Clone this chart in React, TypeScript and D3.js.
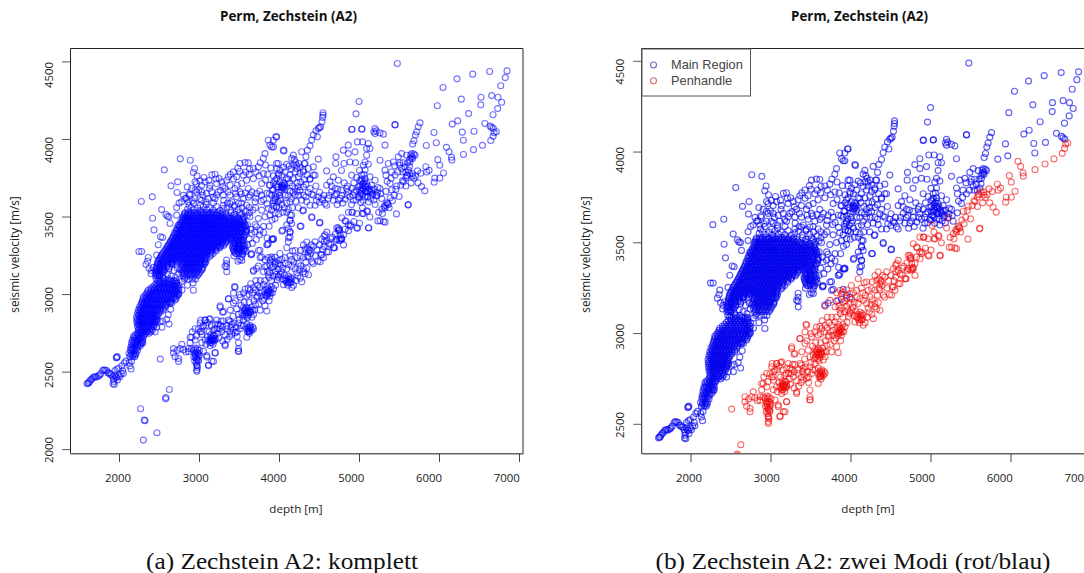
import React from "react";
import * as d3 from "d3";

type P = [number, number];
type Row = [number, number[]];

const mainTail: P[] = [[1595,2425],[1605,2430],[1615,2430],[1625,2440],[1640,2450],[1655,2455],[1670,2465],[1685,2470],[1700,2470],[1715,2468],[1735,2475],[1750,2480],[1765,2490],[1790,2510],[1805,2515],[1820,2512],[1840,2510],[1855,2495],[1870,2495],[1885,2485],[1900,2485],[1915,2470],[1925,2455],[1928,2440],[1920,2425],[1935,2420],[1940,2480],[1955,2470],[1965,2465],[1975,2450],[1990,2480],[2005,2470],[2020,2490],[1970,2520],[1990,2525],[1960,2592],[1972,2600],[1966,2595],[1945,2510],[2048,2492],[2040,2510],[2030,2540],[2060,2560],[2081,2571],[2130,2540],[2144,2520],[2120,2560],[2150,2570]];
const lowOutliers: P[] = [[2264,2264],[2310,2191],[2318,2187],[2468,2109],[2298,2062]];

const lowerArmRows: Row[] = [
[2600,[2130,2165,2190]],[2620,[2120,2150,2180,2205]],[2640,[2135,2160,2190,2225]],[2660,[2140,2170,2200,2235]],
[2685,[2150,2185,2215,2255,2280]],[2705,[2160,2190,2225,2260,2290]],[2730,[2175,2205,2240,2270,2300]],[2750,[2225,2260,2290,2325,2370]],
[2770,[2235,2265,2300,2335,2375,2410]],[2795,[2225,2255,2285,2320,2355,2390,2425]],[2815,[2220,2250,2285,2315,2350,2385,2420,2445]],[2835,[2215,2245,2280,2310,2345,2380,2415,2450,2470]],
[2857,[2214,2250,2275,2305,2340,2375,2410,2440,2465]],[2878,[2225,2260,2290,2320,2355,2385,2420,2450,2490]],[2900,[2235,2265,2300,2335,2370,2400,2435,2470,2510,2548]],[2920,[2250,2285,2315,2350,2385,2420,2455,2490,2530,2570]],
[2943,[2277,2310,2340,2375,2410,2440,2475,2510,2550,2590,2630]],[2965,[2290,2325,2355,2390,2425,2460,2495,2530,2565,2600,2650,2695]],[2986,[2298,2335,2370,2400,2435,2470,2505,2540,2580,2615,2650,2685,2714]],[3008,[2340,2375,2415,2450,2490,2525,2565,2600,2640,2675,2710,2740]],
[3029,[2360,2400,2440,2480,2520,2560,2595,2630,2665,2700,2735]],[3050,[2420,2465,2500,2540,2580,2620,2655,2690,2725]],[3072,[2465,2505,2545,2585,2625,2660,2695,2715]],[3090,[2480,2530,2580,2640,2680,2710]],
];
const lowerArmSecond: Row[] = [
[2610,[2142,2172,2200]],[2650,[2148,2178,2212]],[2672,[2158,2192,2228,2262]],[2695,[2168,2202,2238,2272]],
[2718,[2182,2218,2252,2284]],[2740,[2195,2232,2275,2310]],[2760,[2245,2278,2312,2352,2392]],[2782,[2242,2278,2318,2358,2398]],
[2805,[2238,2268,2302,2338,2372,2408,2436]],[2825,[2232,2265,2298,2332,2368,2402,2434,2458]],[2846,[2226,2262,2292,2325,2358,2392,2426,2455]],[2868,[2238,2268,2298,2332,2365,2398,2430,2462,2480]],
[2889,[2245,2276,2308,2340,2375,2408,2442,2472,2512]],[2910,[2262,2296,2330,2365,2400,2438,2475,2512,2550]],[2932,[2268,2298,2330,2362,2398,2432,2466,2502,2540,2580]],[2954,[2282,2316,2348,2382,2418,2452,2488,2524,2562,2604,2640]],
[2975,[2302,2340,2378,2414,2450,2485,2520,2556,2592,2632,2672,2705]],[2997,[2322,2358,2392,2428,2464,2500,2535,2572,2610,2648,2688,2725]],[3018,[2352,2392,2428,2470,2508,2546,2582,2622,2658,2695,2728]],[3040,[2392,2434,2476,2512,2552,2590,2628,2668,2708,2742]],
[3061,[2442,2486,2525,2565,2605,2642,2678,2712]],[3082,[2500,2555,2610,2665,2702]],
];
const lowerArmLoose: P[] = [[2506,2825],[2540,2830],[2590,2840],[2610,2870],[2620,2810],[2530,2790],[2465,2790],[2445,2760],[2640,2905],[2655,2945],[2700,3020],[2780,3030],[2290,2690],[2345,2765],[2620,2950],[2924,3028],[2820,3110],[2740,3000],[2500,3125],[2545,3110],[2600,3130],[2650,3120],[2700,3110],[2740,3135],[2620,3165],[2680,3155],[2725,3170],[2780,3085],[2850,3060],[2920,3075],[2745,3060],[2560,3150],[2660,3200]];

const coreRows: Row[] = [
[3528,[2820,2860,2895,2940,2975,3020,3055,3100,3140,3180,3225,3285,3395,3505,3625]],
[3510,[2805,2845,2880,2920,2960,3000,3040,3085,3125,3165,3205,3245,3290,3335,3425,3515,3600]],
[3493,[2800,2835,2870,2905,2945,2985,3025,3060,3100,3140,3180,3220,3260,3300,3345,3390,3430,3475,3555]],
[3475,[2790,2825,2860,2900,2935,2975,3010,3050,3090,3130,3170,3210,3250,3290,3330,3370,3415,3455,3500,3540]],
[3458,[2770,2810,2850,2885,2925,2965,3005,3040,3080,3120,3160,3195,3235,3275,3320,3360,3400,3440,3480,3525,3560]],
[3440,[2750,2790,2830,2870,2910,2950,2990,3030,3070,3110,3150,3190,3230,3270,3310,3350,3390,3430,3470,3510,3550,3575]],
[3423,[2730,2770,2815,2855,2895,2935,2975,3015,3055,3095,3135,3175,3215,3255,3295,3335,3375,3415,3455,3495,3540,3590]],
[3405,[2715,2755,2795,2835,2880,2920,2960,3000,3040,3080,3120,3160,3200,3240,3280,3320,3360,3400,3440,3480,3525,3575]],
[3388,[2695,2735,2775,2820,2860,2900,2940,2980,3020,3060,3100,3140,3180,3220,3260,3300,3340,3380,3420,3465,3510,3560]],
[3370,[2670,2710,2755,2800,2840,2880,2920,2960,3000,3040,3080,3120,3160,3200,3240,3280,3320,3360,3400,3450,3500,3550]],
[3352,[2650,2690,2730,2775,2820,2860,2900,2945,2985,3025,3065,3105,3145,3185,3225,3265,3305,3345,3395,3440,3495,3545]],
[3335,[2630,2670,2710,2750,2795,2840,2880,2925,2965,3005,3045,3085,3125,3165,3205,3245,3285,3330,3440,3490,3540]],
[3317,[2610,2650,2690,2730,2775,2815,2860,2900,2945,2985,3025,3065,3105,3145,3185,3225,3265,3300,3430,3480,3525,3565]],
[3300,[2590,2630,2670,2715,2755,2800,2840,2885,2925,2965,3005,3045,3085,3125,3165,3210,3250,3420,3465,3515,3570]],
[3282,[2565,2605,2650,2690,2735,2775,2820,2860,2905,2945,2985,3025,3065,3105,3150,3210,3430,3480,3530,3560]],
[3265,[2540,2585,2625,2670,2710,2755,2800,2840,2885,2925,2965,3010,3050,3090,3130,3170,3450,3495,3540]],
[3247,[2520,2565,2605,2650,2695,2735,2780,2820,2865,2905,2950,2990,3035,3075,3130]],
[3230,[2500,2545,2585,2630,2675,2720,2760,2805,2845,2890,2930,2975,3020,3065,3090]],
[3212,[2480,2525,2570,2615,2660,2705,2745,2790,2830,2875,2920,2965,3010,3055,3080]],
[3195,[2475,2510,2555,2600,2650,2700,2790,2830,2870,2915,2955,3000,3040,3060]],
[3177,[2465,2505,2550,2590,2620,2780,2820,2860,2905,2945,2990,3040]],
[3160,[2460,2500,2530,2560,2760,2800,2845,2890,2935,2985,3030]],
[3140,[2445,2480,2515,2540,2780,2825,2870,2915,2960,3000]],
[3120,[2450,2475,2500,2795,2840,2885,2930,2970]],
[3100,[2460,2500,2560,2610,2810,2860,2910,2950]],
];
const coreSecond: Row[] = [
[3519,[2812,2851,2888,2928,2966,3009,3047,3092,3131,3172,3215,3265,3320,3438,3530]],
[3502,[2796,2828,2862,2902,2940,2980,3018,3062,3103,3146,3186,3226,3268,3312,3358,3447,3545]],
[3484,[2782,2815,2852,2888,2926,2965,3004,3044,3082,3121,3161,3201,3242,3282,3322,3366,3408,3449,3492,3536]],
[3466,[2762,2798,2836,2875,2912,2950,2988,3026,3064,3102,3142,3182,3222,3262,3302,3342,3382,3424,3466,3510,3552]],
[3449,[2745,2780,2818,2858,2896,2934,2972,3012,3050,3090,3130,3170,3210,3250,3290,3332,3372,3412,3452,3492,3532,3572]],
[3431,[2722,2760,2800,2840,2880,2918,2956,2996,3036,3076,3116,3156,3196,3236,3276,3316,3356,3396,3436,3476,3518,3562]],
[3414,[2708,2748,2786,2826,2866,2906,2946,2986,3026,3066,3106,3146,3186,3226,3266,3306,3346,3386,3426,3468,3510,3585]],
[3396,[2688,2726,2766,2808,2848,2888,2928,2968,3008,3048,3088,3128,3168,3208,3248,3288,3328,3368,3408,3450,3492,3538]],
[3379,[2678,2716,2756,2796,2836,2876,2916,2956,2996,3036,3076,3116,3156,3196,3236,3276,3316,3356,3398,3440,3484,3530]],
[3361,[2660,2700,2740,2782,2822,2862,2902,2942,2982,3022,3062,3102,3142,3182,3222,3262,3302,3342,3384,3428,3474,3522]],
[3344,[2640,2680,2720,2762,2806,2848,2890,2932,2972,3012,3052,3092,3132,3172,3212,3252,3292,3338,3425,3470,3518]],
[3326,[2620,2660,2700,2742,2784,2826,2868,2912,2952,2992,3032,3072,3112,3152,3192,3232,3274,3312,3448,3505,3550]],
[3309,[2600,2640,2680,2722,2765,2808,2850,2892,2934,2975,3015,3055,3095,3135,3175,3218,3258,3412,3455,3498,3545]],
[3291,[2578,2618,2660,2702,2745,2788,2830,2872,2915,2955,2995,3035,3075,3115,3158,3198,3425,3470,3505,3550]],
[3273,[2552,2595,2638,2680,2722,2765,2808,2850,2895,2935,2975,3018,3058,3098,3142,3440,3485,3525]],
[3256,[2530,2575,2615,2660,2702,2745,2790,2830,2875,2915,2958,3000,3042,3085,3145]],
[3238,[2510,2555,2595,2640,2685,2728,2770,2812,2855,2898,2940,2982,3028,3070]],
[3221,[2490,2535,2578,2622,2668,2712,2752,2798,2838,2882,2925,2968,3015,3060]],
[3203,[2478,2518,2562,2608,2655,2798,2840,2885,2928,2972,3020,3068]],
[3186,[2470,2508,2552,2596,2790,2832,2880,2925,2968,3015]],
[3168,[2462,2502,2542,2770,2812,2852,2898,2942,2988,3036]],
[3150,[2452,2490,2522,2790,2835,2880,2925,2972,3012]],
[3130,[2462,2490,2805,2850,2895,2945,2985]],
];
const coreBand: P[] = [[2852,3552],[2895,3561],[2932,3546],[2978,3558],[3015,3542],[3048,3566],[3092,3548],[3128,3560],[3172,3545],[3212,3568],[3256,3541],[3298,3555],[3345,3562],[3392,3544],[3438,3566],[3484,3548],[3532,3559],[3578,3538],[3622,3561],[3668,3545],
[2835,3622],[2872,3648],[2912,3605],[2965,3662],[3002,3618],[3042,3640],[3082,3598],[3125,3685],[3170,3628],[3215,3642],[3262,3672],[3302,3608],[3356,3662],[3402,3598],[3452,3652],[3472,3705],[3522,3648],[3575,3655],[3612,3628],[3655,3662],[3702,3622],[3752,3668],[3802,3612],[3842,3652],[3875,3705],[3912,3675],[3825,3738],[3745,3765],[3705,3790],[3622,3775],[3580,3790],[3502,3795],[3425,3745],[3385,3775],[3292,3698],[3205,3745],[3118,3735],[2992,3675],[3155,3772],[3245,3748],[2968,3765],[3480,3815],[3625,3810],[3760,3850],[3825,3835],[3852,3775],[3892,3815],[3925,3765],[3962,3712],[3875,3650],[3922,3605],[3845,3585],[3772,3600],[2870,3575],[2925,3590],[3010,3575],[3085,3580],[3175,3590],[3350,3590],[3440,3575],[3525,3590],[3700,3560],[3920,3590],[3960,3630],[3995,3560],[3905,3480],[3870,3440],[3802,3440],[3750,3385],[3710,3355],[3660,3330],[3600,3320],[3620,3360],[3580,3280],[3600,3450],[3640,3420],[3695,3450],[3800,3400],[3845,3365],[3480,3215],[3505,3225],[3430,3250],[3540,3260],[3440,3300]];

const coreFringe: P[] = [[2760,3875],[2885,3866],[2560,3804],[2923,3787],[2939,3813],[3194,3776],[3056,3755],[3006,3733],[2944,3727],[2727,3727],[2644,3701],[2719,3658],[2410,3630],[2273,3600],[2527,3548],[2581,3516],[2600,3505],[2619,3501],[2631,3458],[2414,3492],[2431,3417],[2514,3372],[2539,3368],[2485,3321],[2243,3278],[2277,3278],[2360,3239],[2464,3254],[2714,3561],[2735,3447],[2714,3512],[2330,3195],[2370,3170],[2400,3155],[2420,3175],[2350,3215],[2395,3135],[2745,3590],[2800,3640],
[2848,3694],[2902,3684],[2964,3716],[3027,3705],[3069,3727],[3131,3705],[3214,3716],[3277,3727],[3360,3759],[3339,3737],[3423,3791],[3506,3845],[3569,3851],[3610,3849],[3673,3813],[3735,3823],[3798,3877],[3819,3909],[3860,3995],[3881,3963],[3923,3952],[3956,4017],[3798,3780],[3777,3716],[3548,3770],[3464,3759],[3381,3705],[3444,3684],[3527,3716],[3589,3737],[3673,3748],[3610,3684],[3506,3662],[3319,3684],[3235,3662],[3152,3662],[3089,3651],[3027,3662],[2944,3673],[2881,3641],[2819,3619],[2777,3598],[2860,3598],[2944,3619],[3027,3608],[3110,3619],[3194,3619],[3298,3641],[3381,3641],[3464,3630],[3548,3619],[3631,3641],[3714,3651],[3777,3641],[3694,3598],[3589,3576],[3485,3587],[3381,3587],[3298,3576],
[3631,3501],[3735,3490],[3819,3501],[3881,3512],[3944,3490],[3777,3544],[3860,3555],[3964,3566],[3944,3619],[3985,3694],[3964,3748],[3985,3780],[3964,3845],[3714,3437],[3652,3394],[3589,3404],[3527,3351],[3569,3383],[3694,3404],[3756,3415],[3464,3265],[3527,3243],[3652,3265],[3648,3260],[3756,3286],[3860,3329],[3923,3361],[3777,3243],[3902,3243],[3944,3211],[3881,3190],[3985,3200],[3819,3179],[3714,3168],[3673,3157],[3339,3200],[3339,3179],[3341,3147],[3320,3183],[3339,3222],[3423,3329],[3485,3297],[3529,3220],[3645,3257],[3758,3238],[3737,3284],[3841,3321],[3904,3357],[3850,3321],[3912,3357],[4029,3409],[4133,3403],[4112,3366],[4091,3449],[4133,3476],[4133,3513],[4112,3550],[4258,3440],[4404,3495],[4500,3462],[4291,3540]];

const streakUpper: P[] = [[4544,4172],[4544,4157],[4539,4142],[4531,4114],[4514,4082],[4485,4071],[4500,4076],[4456,4056],[4423,4028],[4473,4017],[4402,3996],[4381,3959],[4348,3931],[4277,3921],[4331,3888],[4310,3845],[4173,3899],[4152,3878],[4485,3873],[4298,3792],[4214,3813],[4256,3781],[4444,3770],[4381,3742],
[4048,3931],[4056,3926],[3964,4017],[3923,3995],[3902,3952],[3985,3845],[3964,3813],[4006,3802],[4069,3791],[4089,3748],[4069,3705],[4048,3694],[4006,3727],[3944,3737],[3964,3694],[4027,3673],[3923,3673],[3902,3641],[3944,3608],[3964,3566],[3944,3523],[3902,3544],[4006,3608],[3881,3705],[4040,3700],[4055,3690],[4030,3705],[4060,3715],[4045,3720],[4035,3685],[4070,3680],[4020,3690],[3990,3660],[3950,3650],
[4214,3834],[4319,3845],[4360,3813],[4423,3823],[4298,3802],[4194,3791],[4235,3759],[4173,3748],[4381,3748],[4423,3770],[4381,3684],[4402,3647],[4298,3694],[4256,3673],[4194,3641],[4152,3619],[4131,3598],[4277,3608],[4423,3641],[4485,3630],[4527,3619],[4568,3587],[4444,3576],[4381,3576],[4298,3544],[4402,3501],[4506,3465],[4268,3441],[4152,3512],[4131,3480],[4152,3458],[4110,3426],[4131,3404],[4039,3415],[4131,3372],[4110,3340],[3923,3355],[4194,3684],[4170,3660],[4110,3640],[4130,3665],[4220,3720],[4090,3590],[4060,3560],[4040,3530],[3990,3520],[4090,3530],[4020,3620],[4205,3600],[4340,3600],[4235,3560],[4160,3560],
[4185,3870],[4200,3855],[4175,3835],[4150,3810],[4240,3845],[4260,3820],[4130,3770],[4110,3745],[4125,3720],[4160,3700],[4235,3695],[4265,3725],[4310,3740],[4345,3770],[4330,3710],[4360,3660],[4300,3640],[4240,3640],[4330,3630],[4220,3665],[4455,3700],[4500,3660],[4460,3605],[4120,3830],[4090,3840],[4050,3820],[4030,3770],[3990,3770],[3925,3720],[4000,3640],[4070,3640],[4030,3580],[3980,3600],[3930,3570]];

const midBand: P[] = [[4706,3888],[4702,3845],[4589,3797],[4806,3845],[4673,3759],[4631,3727],[4735,3737],[4589,3705],[4694,3684],[4652,3662],[4777,3673],[4839,3684],[4902,3770],[4881,3855],[4860,3909],[4860,3963],[4798,3931],[4944,3920],[4973,3984],[5039,3984],[5110,3974],[5131,3941],[5089,3941],[5089,3898],[5069,3855],[5048,3834],[5069,3802],[5027,3770],[5006,3737],[5069,3748],[5131,3759],[5194,3737],[5152,3705],[5089,3716],[4985,3694],[4902,3684],[4860,3662],[4923,3641],[5027,3651],[4985,3630],[4923,3608],[4881,3630],[4735,3608],[4673,3608],[4589,3576],[5048,3608],[5069,3630],[5110,3598],[5214,3641],[5277,3619],[5256,3684],[5381,3716],[5444,3770],[5319,3802],[5360,3845],[5256,3866],[5319,3963],[5444,4096],[4902,4064],[5027,4066],[5194,4070],[5194,4038],[5256,4042],[5298,4034],[5180,4050],[5210,4055],[5423,3855],[5485,3888],[5527,3909],[5590,3898],[5652,3909],[5694,3898],[5664,3877],[5631,3855],[5569,3823],[5610,3802],[5527,3812],[5640,3900],[5660,3890],[5680,3905],[5645,3880],[5625,3870],[5600,3850],[5545,3850],[5500,3835],[5580,3790],[5625,3825],
[5030,3745],[5050,3720],[5060,3700],[5040,3710],[5020,3730],[5005,3700],[5065,3730],[5080,3690],[5045,3680],[5025,3670],[5100,3700],[5120,3680],[5140,3660],[5160,3640],[5090,3660],[5010,3650],[5055,3775],[5075,3700],[5035,3690],[5000,3675],[4960,3670],[4935,3660],[4845,3640],[4780,3640],[4820,3615],[4710,3650],[4620,3640],[4555,3640],[4900,3580],[4720,3580],[4790,3590],[4960,3610],[4850,3700],[4775,3800],[4950,3850],[5000,3800],[5110,3840],[5130,3665],[5180,3680],[5230,3690],[5100,3630],[5140,3620],[5180,3610],
[4760,3620],[4690,3640],[4610,3620],[4540,3610],[4500,3595],[4650,3700],[4730,3680],[4810,3720],[4930,3720],[4965,3755],[5075,3665],[5105,3670],[5040,3640],[5000,3625],[5150,3675],[5170,3650],[5225,3660],[5265,3650],[5330,3665],[5345,3730],[5395,3750],[5480,3790],[5540,3790],[5505,3850],[5440,3830],[5400,3790],[5330,3770],
[5756,4107],[5735,4082],[5714,4050],[5698,4028],[5681,3992],[5664,3970],[5931,4045],[5835,3961],[5960,3979],[5473,4490],[6844,4442],[6823,4399],[6765,4346],[6627,4438],[6415,4421],[6219,4391],[6044,4335],[6273,4260],[6519,4272],[6515,4223],[6652,4283],[6731,4272],[6777,4240],[6727,4199],[6669,4159],[6364,4167],[5973,4217],[4994,4245],[4956,4165],[4906,4066],[5031,4068],[5444,4094],[6227,4120],[6160,4099],[6285,4047],[6431,4053],[6298,3995],[6568,4103],[6631,4086],[6651,4078],[6673,4071]];

const penhandleLow: P[] = [[2509,2584],[2623,2388],[2577,2328],[2580,2336],[2966,2515],[2966,2542],[2966,2579],[2945,2615],[2925,2643],[2987,2570],[3112,2542],[3154,2570],[3091,2606],[3195,2625],[3050,2634],[2904,2725],[2883,2689],[2862,2652],[3487,2634],[3487,2689],[3320,2670],[3154,2707],[3112,2707],[3195,2716],[3070,2707],[3133,2670],[3175,2734],[3029,2762],[2945,2780],[3050,2799],[3008,2817],[3070,2835],[3133,2844],[3216,2835],[3237,2808],[3279,2762],[3341,2780],[3383,2826],[3362,2835],[3404,2808],[3404,2744],[3445,2753],[3508,2780],[3591,2725],[3633,2762],[3591,2780],[3675,2780],[3633,2789],[3550,2799],[3487,2817],[3550,2835],[3654,2854],[3591,2881],[3529,2881],[3633,2899],[3570,2908],[3487,2872],[3466,2908],[3675,2872],[3758,2899],[3820,2927],[3841,2894],[3425,2945],[3362,2973],[3425,3009],[3445,3046],[3508,2982],[3591,2991],[3633,3028],[3716,2982],[3779,3018],[3758,3046],[3883,3028],[3820,3000],[3862,3037],[3925,3037],[3675,3046],[3800,3064],[3258,2927],[3300,2890],
[2675,2652],[2675,2624],[2759,2652],[2738,2588],[2738,2569],[2779,2679],[2863,2633],[2884,2725],[2946,2624],[2967,2588],[2967,2542],[2967,2505],[3092,2597],[3113,2546],[3175,2569],[3196,2624],[3154,2707],[3196,2707],[3071,2835],[2988,2780],[2946,2707],[3030,2743],[3258,2917],[3288,2886],[3438,3051],[3363,2972],[3488,2652],[3488,2635],[3321,2679],[3613,2762],[2720,2640],[2695,2600],[2800,2645],[2830,2630],[2900,2650],[2930,2600],[2950,2595],[2985,2600],[2960,2560],[2975,2530],[3000,2640],[3030,2690],[3080,2680],[3100,2730],[3130,2690],[3160,2720],[3180,2700],[3145,2725],[3170,2680],[3120,2760],[3080,2800],[3010,2760],[2960,2735],[2910,2760],[3150,2800],[3190,2780],[3230,2750],[3260,2800],[3300,2830],[3320,2740],[3380,2760],[3420,2770],[3470,2730],[3455,2790],[3500,2840],[3420,2860],[3385,2900],[3450,2960],[3520,2930],[3540,2860],[3575,2885],[3600,2895],[3615,2870],[3560,2895],[3585,2860],[3610,2910],[3650,2920],[3690,2900],[3620,2950],[3680,2960],[3740,2940],[3790,2960],[3560,2950],[3500,3000],[3550,3010],[3620,3000],[3770,2990],[3840,2990],[3850,3015],[3870,3005],[3880,2990],[3830,3030],[3845,3050],[3910,3010],[3615,2767],[3600,2760],[3625,2750],[3640,2780],[3655,2770],
[2972,2625],[2955,2640],[2985,2620],[2998,2610],[2950,2655],[2975,2650],[2955,2610],[2985,2580],[2940,2570],[3140,2715],[3165,2705],[3150,2690],[3175,2715],[3125,2700],[3140,2740],[3190,2735],[3035,2790],[3015,2835],[3100,2820],[3120,2840],[3195,2810],[3220,2780],[3170,2770],[3250,2780],[3270,2830],[3290,2790],[3340,2800],[3395,2790],[3430,2815],[3375,2730],[3345,2710],[3290,2700],[3240,2720],[3575,2900],[3590,2915],[3605,2885],[3625,2890],[3600,2850],[3565,2870],[3550,2915],[3640,2885],[3665,2900],[3700,2935],[3725,2990],[3745,3010],[3665,3010],[3700,3030],[3725,3060],[3610,3040],[3570,3035],[3640,3070],[3705,3090],[3760,3090],[3815,3090],[3855,3010],[3865,3022],[3890,3012],[3845,3000],[3810,2975],[3870,2960],[3900,3050],[3950,3060],[3970,3095],[3620,2775],[3610,2790],[3635,2800],[3665,2790],[3590,2810],[3520,2800],[3470,2760]];

const penhandleHigh: P[] = [[4112,3082],[4070,3092],[4154,3101],[4050,3064],[4154,3046],[4279,3082],[4362,3128],[4300,3147],[4112,3119],[3987,3119],[3862,3128],[3800,3147],[3737,3183],[3675,3150],[3883,3220],[3862,3238],[3904,3229],[3987,3220],[4070,3202],[4112,3192],[4070,3238],[4091,3302],[4195,3284],[4216,3238],[4258,3247],[4320,3293],[4341,3339],[4425,3311],[4383,3284],[4362,3275],[4529,3256],[4550,3238],[4508,3211],[4404,3211],[4300,3165],[4195,3165],[3987,3165],[3904,3174],[4237,3202],[4154,3183],[4591,3275],[4675,3302],[4612,3330],[4529,3357],[4570,3385],[4591,3403],[4716,3431],[4737,3412],[4779,3357],[4716,3357],[4758,3385],[4800,3385],[4820,3421],[4883,3440],[4862,3412],[4779,3495],[4820,3476],[4966,3431],[5112,3431],[4904,3531],[4966,3522],[5050,3522],[5091,3540],[5258,3476],[5320,3467],[5279,3550],[5320,3559],
[4095,3075],[4120,3095],[4130,3075],[4105,3060],[4085,3105],[4140,3110],[4060,3125],[4025,3145],[3960,3130],[3920,3120],[3880,3140],[3850,3150],[3870,3110],[3900,3090],[4010,3190],[4040,3170],[4090,3165],[3950,3195],[4150,3225],[4180,3210],[4250,3160],[4330,3210],[4300,3240],[4350,3250],[4370,3290],[4350,3300],[4390,3265],[4450,3250],[4470,3290],[4500,3320],[4560,3340],[4640,3360],[4687,3302],[4612,3275],[4745,3421],[4750,3415],[4735,3430],[4770,3360],[4760,3350],[4775,3365],[4704,3348],[4558,3376],[4587,3348],[4641,3321],[4558,3311],[4683,3302],[4516,3256],
[5608,3577],[5462,3520],[5300,3471],[5229,3475],[5116,3429],[4975,3427],[5733,3720],[5775,3696],[5816,3669],[5870,3801],[5829,3824],[5766,3782],[5725,3797],[5662,3779],[5600,3769],[5625,3782],[5579,3751],[5537,3733],[5516,3705],[5454,3678],[5404,3674],[5495,3632],[5433,3641],[5412,3605],[5350,3586],[5360,3580],[5340,3592],[5308,3568],[5325,3575],[5287,3522],[5195,3581],[5216,3636],[5100,3535],[5037,3522],[4912,3531],[4862,3531],[5016,3595],[5037,3559],[4829,3473],[4891,3449],[5610,3580],[5660,3763],[5590,3765],[5550,3727],
[6683,4044],[6670,4020],[6641,3993],[6537,3962],[6425,3934],[6300,3903],[6154,3867],[6150,3885],[6120,3921],[6087,3949],[5979,3870],[6004,3834],[6050,3784],[6004,3751],[5941,3751],[5933,3724],[6710,4050],
[3985,3110],[4010,3130],[4040,3100],[4085,3085],[4125,3100],[4145,3080],[4175,3060],[4205,3090],[4230,3120],[4260,3105],[4320,3135],[4340,3170],[4265,3185],[4215,3140],[3945,3150],[3925,3180],[3840,3185],[3820,3225],[3945,3240],[4005,3265],[4030,3225],[4130,3250],[4165,3280],[4265,3285],[4300,3320],[4395,3320],[4445,3340],[4360,3240],[4420,3200],[4480,3215],[4540,3290],[4660,3370],[4700,3390],[4745,3350],[4800,3320],[4860,3450],[4930,3470],[5000,3460],[5130,3500],[5240,3530],[5370,3560],[5385,3625],[5465,3700],[5580,3700],[5645,3720],[5680,3750],[5700,3765],[5840,3790]];

const xTicks = [2000, 3000, 4000, 5000, 6000, 7000];
const yTicksLeft = [2000, 2500, 3000, 3500, 4000, 4500];
const yTicksRight = [2500, 3000, 3500, 4000, 4500];
const plotTitle = "Perm, Zechstein (A2)";
const xLabel = "depth [m]";
const yLabel = "seismic velocity [m/s]";
const legendLabels = ["Main Region", "Penhandle"];

const fromRows = (rows: Row[]): P[] => rows.flatMap(([v, ds]) => ds.map((d) => [d, v] as P));
const mainPoints: P[] = [
  ...mainTail, ...lowOutliers, ...fromRows(lowerArmRows), ...fromRows(lowerArmSecond), ...lowerArmLoose,
  ...fromRows(coreRows), ...fromRows(coreSecond), ...coreBand, ...coreFringe, ...streakUpper, ...midBand,
];
const penhandlePoints: P[] = [...penhandleLow, ...penhandleHigh];

const BLUE = "#0000ee";
const RED = "#f00000";
const UI = "'Open Sans', 'Noto Sans', sans-serif";

function Panel(props: {
  id: string; box: [number, number, number, number];
  xRange: [number, number]; xLabelRange: [number, number];
  yDomain: [number, number]; yRange: [number, number]; yLabelRange: [number, number];
  yTicks: number[]; split: boolean; titleX: number; xLabelX: number; yLabelX: number; caption: string; captionX: number; captionW: number;
}) {
  const { id, box, xRange, xLabelRange, yDomain, yRange, yLabelRange, yTicks, split } = props;
  const [x0, y0, x1, y1] = box;
  const x = d3.scaleLinear().domain([2000, 7000]).range(xRange);
  const xl = d3.scaleLinear().domain([2000, 7000]).range(xLabelRange);
  const y = d3.scaleLinear().domain(yDomain).range(yRange);
  const yl = d3.scaleLinear().domain(yDomain).range(yLabelRange);
  const rings = (pts: P[], color: string, op: number) =>
    pts.map(([d, v], i) => (
      <circle key={color + i} cx={x(d)} cy={y(v)} r={3} fill="none" stroke={color} strokeWidth={1.15} strokeOpacity={op} />
    ));
  return (
    <g>
      <text x={props.titleX} y={20.5} textAnchor="middle" fontFamily={UI} fontWeight={700} fontSize={13.4} fill="#111">{plotTitle}</text>
      <clipPath id={id}><rect x={x0} y={y0} width={x1 - x0} height={y1 - y0} /></clipPath>
      <g clipPath={`url(#${id})`}>
        {split ? (
          <>
            {rings(mainPoints, BLUE, 0.62)}
            {rings(penhandlePoints, RED, 0.55)}
          </>
        ) : (
          rings([...mainPoints, ...penhandlePoints], "#0000ff", 0.55)
        )}
      </g>
      <path d={`M${x0},${y1}V${y0}H${x1}`} fill="none" stroke="#222" strokeWidth={1} />
      <path d={`M${x0},${y1}H${x1}V${y0}`} fill="none" stroke="#666" strokeWidth={1.4} />
      {xTicks.map((t) => (
        <g key={t}>
          <line x1={x(t)} x2={x(t)} y1={y1} y2={462} stroke="#333" strokeWidth={0.9} />
          <text x={xl(t)} y={482} textAnchor="middle" fontFamily={UI} fontSize={11.4} fill="#222">{t}</text>
        </g>
      ))}
      {yTicks.map((t) => (
        <g key={t}>
          <line x1={x0 - 8.5} x2={x0} y1={y(t)} y2={y(t)} stroke="#444" strokeWidth={0.9} />
          <text transform={`translate(${x0 - 18},${yl(t)}) rotate(-90)`} textAnchor="middle" fontFamily={UI} fontSize={11.4} fill="#222">{t}</text>
        </g>
      ))}
      <text x={props.xLabelX} y={512.5} textAnchor="middle" fontFamily={UI} fontSize={11.6} fill="#222">{xLabel}</text>
      <text transform={`translate(${props.yLabelX},254.5) rotate(-90)`} textAnchor="middle" fontFamily={UI} fontSize={11.8} fill="#222">{yLabel}</text>
      <text x={props.captionX} y={568.5} textAnchor="middle" fontFamily="'Liberation Serif', serif" fontSize={23.5} fill="#111" textLength={props.captionW} lengthAdjust="spacingAndGlyphs">{props.caption}</text>
    </g>
  );
}

export default function App() {
  return (
    <svg width={1084} height={573} style={{ position: "absolute", left: 0, top: 0, background: "#fff" }}>
      <Panel id="clipA" box={[70.5, 48.5, 523, 453.7]} xRange={[119.5, 519.5]} xLabelRange={[118, 506.7]}
        yDomain={[2000, 4500]} yRange={[449.7, 61.9]} yLabelRange={[450, 75]} yTicks={yTicksLeft} split={false}
        titleX={288.5} xLabelX={296} yLabelX={19} caption="(a)  Zechstein A2: komplett" captionX={282} captionW={272} />
      <Panel id="clipB" box={[641.7, 48.5, 1100, 453.7]} xRange={[691, 1091]} xLabelRange={[689, 1077.5]}
        yDomain={[2500, 4500]} yRange={[424.3, 61.3]} yLabelRange={[425, 71.7]} yTicks={yTicksRight} split={true}
        titleX={859.5} xLabelX={868} yLabelX={590} caption="(b)  Zechstein A2: zwei Modi (rot/blau)" captionX={853} captionW={395} />
      <rect x={642} y={49} width={108.5} height={47} fill="#fff" stroke="#555" strokeWidth={1} />
      {legendLabels.map((lab, i) => (
        <g key={lab}>
          <circle cx={653.5} cy={65 + i * 15.7} r={3} fill="none" stroke={i === 0 ? "#3030a0" : "#c03030"} strokeWidth={1.15} strokeOpacity={0.7} />
          <text x={671} y={69 + i * 16} fontFamily="'Liberation Sans', sans-serif" fontSize={12.8} fill="#444">{lab}</text>
        </g>
      ))}
    </svg>
  );
}
